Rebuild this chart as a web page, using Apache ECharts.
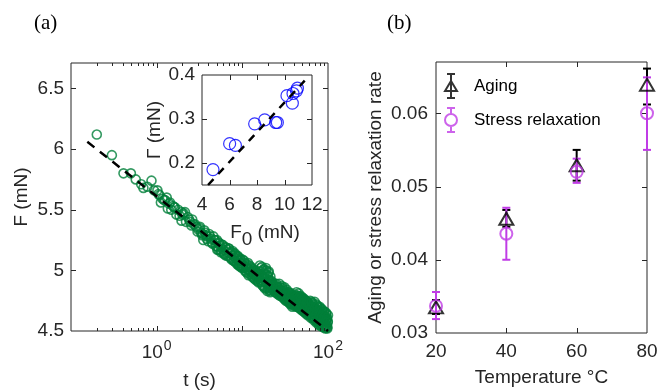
<!DOCTYPE html>
<html><head><meta charset="utf-8">
<script src="https://cdn.jsdelivr.net/npm/echarts@6/dist/echarts.min.js"></script>
<style>html,body{margin:0;padding:0;background:#fff}#c{width:670px;height:392px}</style>
</head><body><div id="c"></div>
<script>
// ---------- Panel (a): F vs t ----------
const tData = [0.20,0.30,0.41,0.50,0.57,0.66,0.70,0.78,0.87,0.93,1.02,1.08,1.17,1.25,1.31,1.43,1.55,1.63,1.78,1.95,1.95,2.05,2.14,2.30,2.45,2.60,2.70,2.90,3.05,3.20,3.30,3.45,3.50,3.60,3.75,3.90,4.00,4.10,4.30,4.50,4.60,4.80,5.00,5.10,5.25,5.30,5.50,5.60,5.80,6.00,6.20,6.40,6.60,6.80,7.00,7.20,7.40,7.60,7.80,8.00,8.20,8.40,8.60,8.80,9.00,9.20,9.40,9.60,9.80,
 10.0,10.3,10.6,10.9,11.2,11.5,11.8,12.1,12.4,12.7,13.0,13.3,13.6,13.9,14.2,14.5,14.8,15.1,15.4,15.7,
 16.0,16.3,16.6,16.9,17.2,17.5,17.8,18.1,18.4,18.7,19.0,19.3,19.6,19.9,20.2,20.5,20.8,21.1,21.4,21.7,
 22,22.5,23,23.5,24,24.5,25,25.5,26,26.5,27,27.5,28,28.5,29,29.5,30,30.5,31,31.5,32,32.5,33,33.5,34,34.5,35,35.5,36,36.5,37,37.5,38,38.5,39,39.5,
 40,40.5,41,41.5,42,42.5,43,43.5,44,44.5,45,45.5,46,46.5,47,47.5,48,48.5,49,49.5,50,50.5,51,51.5,52,52.5,53,53.5,54,54.5,55,55.5,56,56.5,57,57.5,58,58.5,59,59.5,
 60,61,62,63,64,65,66,67,68,69,70,71,72,73,74,75,76,77,78,79,80,81,82,83,84,85,86,87,88,89,90,91,92,93,94,95,96,97,98,99,100];
const fData = [6.12,5.95,5.80,5.80,5.75,5.71,5.68,5.69,5.74,5.66,5.66,5.62,5.59,5.58,5.60,5.56,5.53,5.52,5.50,5.48,5.41,5.47,5.48,5.44,5.40,5.42,5.38,5.36,5.34,5.36,5.31,5.30,5.25,5.33,5.29,5.28,5.24,5.30,5.26,5.22,5.28,5.25,5.20,5.17,5.17,5.23,5.20,5.15,5.21,5.17,5.13,5.19,5.15,5.12,5.18,5.14,5.10,5.15,5.12,5.08,5.14,5.10,5.06,5.12,5.08,5.04,5.10,5.06,5.03,
 5.09,5.02,5.06,4.99,5.05,5.01,4.96,5.04,4.99,5.02,4.95,5.01,4.97,4.93,5.00,4.95,4.98,4.91,4.97,4.94,
 5.04,4.99,4.90,5.03,4.95,4.87,5.01,4.93,4.85,4.97,5.00,4.89,4.83,4.95,4.98,4.86,4.92,4.82,4.90,4.85,
 4.91,4.85,4.88,4.83,4.89,4.84,4.89,4.81,4.86,4.82,4.89,4.79,4.84,4.80,4.87,4.78,4.83,4.79,4.86,4.76,4.81,4.77,4.84,4.75,4.80,4.76,4.82,4.73,4.78,4.74,4.81,4.72,4.77,4.73,4.79,4.71,
 4.76,4.72,4.80,4.74,4.78,4.71,4.82,4.75,4.70,4.79,4.73,4.81,4.69,4.76,4.72,4.79,4.68,4.75,4.71,4.78,4.67,4.74,4.70,4.77,4.66,4.73,4.69,4.76,4.65,4.72,4.68,4.75,4.64,4.71,4.67,4.74,4.63,4.70,4.66,4.73,
 4.69,4.64,4.75,4.61,4.68,4.73,4.62,4.70,4.59,4.66,4.74,4.60,4.68,4.57,4.64,4.71,4.58,4.66,4.55,4.62,4.70,4.57,4.64,4.54,4.61,4.68,4.55,4.63,4.53,4.60,4.66,4.54,4.61,4.52,4.58,4.65,4.53,4.60,4.52,4.57,4.63];
// second pass of readings (interleaved samples in the dense part of the cloud)
const tData2 = [1.05,1.12,1.22,1.35,1.40,1.48,1.60,1.70,1.85,2.00,2.20,2.40,2.55,2.80,3.00,3.15,3.40,3.70,3.85,4.20,4.40,4.70,4.90,
 5.05,5.2,5.4,5.7,5.9,6.1,6.3,6.5,6.7,6.9,7.1,7.3,7.5,7.7,7.9,8.1,8.3,8.5,8.7,8.9,9.1,9.3,9.5,9.7,9.9,
 10.15,10.45,10.75,11.05,11.35,11.65,11.95,12.25,12.55,12.85,13.15,13.45,13.75,14.05,14.35,14.65,14.95,15.25,15.55,15.85,
 16.15,16.45,16.75,17.05,17.35,17.65,17.95,18.25,18.55,18.85,19.15,19.45,19.75,20.05,20.35,20.65,20.95,21.25,21.55,21.85,
 22.25,22.75,23.25,23.75,24.25,24.75,25.25,25.75,26.25,26.75,27.25,27.75,28.25,28.75,29.25,29.75,30.25,30.75,
 31.25,31.75,32.25,32.75,33.25,33.75,34.25,34.75,35.25,35.75,36.25,36.75,37.25,37.75,38.25,38.75,39.25,39.75,
 40.25,40.75,41.25,41.75,42.25,42.75,43.25,43.75,44.25,44.75,45.25,45.75,46.25,46.75,47.25,47.75,48.25,48.75,49.25,49.75,
 50.25,50.75,51.25,51.75,52.25,52.75,53.25,53.75,54.25,54.75,55.25,55.75,56.25,56.75,57.25,57.75,58.25,58.75,59.25,59.75,
 60.5,61.5,62.5,63.5,64.5,65.5,66.5,67.5,68.5,69.5,70.5,71.5,72.5,73.5,74.5,75.5,76.5,77.5,78.5,79.5,
 80.5,81.5,82.5,83.5,84.5,85.5,86.5,87.5,88.5,89.5,90.5,91.5,92.5,93.5,94.5,95.5,96.5,97.5,98.5,99.5];
const fData2 = [5.63,5.56,5.58,5.51,5.55,5.50,5.52,5.46,5.45,5.46,5.40,5.42,5.37,5.38,5.32,5.35,5.29,5.31,5.26,5.28,5.23,5.25,5.20,
 5.25,5.19,5.22,5.16,5.21,5.14,5.19,5.12,5.17,5.18,5.11,5.15,5.09,5.16,5.08,5.13,5.07,5.12,5.05,5.11,5.04,5.09,5.03,5.08,5.02,
 5.04,5.08,5.00,5.03,4.98,5.06,5.01,4.97,5.03,4.98,5.00,4.94,4.99,4.96,4.92,4.99,4.93,4.96,4.90,4.95,
 4.92,5.02,4.96,4.88,5.00,4.91,4.97,4.86,4.94,5.02,4.90,4.96,4.85,4.92,4.99,4.84,4.88,4.95,4.83,4.89,
 4.87,4.89,4.84,4.86,4.82,4.87,4.84,4.86,4.80,4.84,4.83,4.86,4.79,4.82,4.81,4.85,4.77,4.81,
 4.80,4.83,4.75,4.79,4.78,4.82,4.74,4.78,4.77,4.80,4.72,4.76,4.75,4.79,4.70,4.75,4.74,4.77,
 4.74,4.77,4.73,4.78,4.70,4.76,4.73,4.79,4.72,4.74,4.77,4.70,4.75,4.78,4.69,4.74,4.77,4.72,4.68,4.75,
 4.71,4.76,4.68,4.73,4.75,4.67,4.71,4.74,4.70,4.66,4.72,4.69,4.74,4.66,4.70,4.73,4.65,4.69,4.72,4.67,
 4.66,4.71,4.63,4.69,4.74,4.61,4.67,4.72,4.64,4.60,4.69,4.63,4.72,4.58,4.66,4.70,4.60,4.67,4.56,4.64,
 4.69,4.59,4.66,4.56,4.62,4.67,4.57,4.64,4.54,4.61,4.66,4.56,4.62,4.53,4.59,4.64,4.55,4.61,4.53,4.58];
const fitT = [0.155, 100];
const fitF = [6.06, 4.50];
const tLabelValues = [1, 100];
const tMajorTicks = [1, 10];
const tMinorTicks = [0.2,0.3,0.4,0.5,0.6,0.7,0.8,0.9,2,3,4,5,6,7,8,9,20,30,40,50,60,70,80,90];
const fTicks = [5, 5.5, 6, 6.5];

// ---------- Inset: Gamma vs F0 ----------
const f0Data = [4.80,6.01,6.43,7.83,8.56,9.36,9.48,10.18,10.57,10.62,10.87,10.94];
const gammaData = [0.185,0.244,0.240,0.289,0.298,0.292,0.292,0.353,0.336,0.358,0.364,0.370];
const insetFitX = [4.44, 11.47];
const insetFitY = [0.15, 0.387];
const insetXTicks = [6, 8, 10];
const insetYTicks = [0.2, 0.3, 0.4];

// ---------- Panel (b) ----------
const temps = [20, 40, 60, 80];
const agingRate = [0.0335, 0.0456, 0.0529, 0.0639];
const agingLo   = [0.0326, 0.0445, 0.0508, 0.0612];
const agingHi   = [0.0345, 0.0468, 0.0550, 0.0661];
const stressRate = [0.0337, 0.04355, 0.0520, 0.0600];
const stressLo   = [0.0319, 0.0400, 0.0505, 0.0550];
const stressHi   = [0.0356, 0.0471, 0.0538, 0.0649];
const tempTicks = [40, 60];
const rateTicks = [0.04, 0.05, 0.06];

const FF = '"Liberation Sans", Arial, Helvetica, sans-serif';
const AX = '#262626';
const GREEN = '#007f3a';
const BLUE = '#0000ff';
const PURPLE = '#c03ce6';

function axisBase(extra) {
  return Object.assign({
    axisLine: {show: false, onZero: false},
    axisTick: {show: false},
    splitLine: {show: false},
    axisLabel: {color: AX, fontSize: 19, fontFamily: FF},
    nameTextStyle: {color: AX, fontSize: 19, fontFamily: FF}
  }, extra);
}

function errRender(color) {
  return function (params, api) {
    const x = api.value(0), lo = api.value(1), hi = api.value(2);
    const a = api.coord([x, lo]), b = api.coord([x, hi]);
    const w = 4;
    const st = {stroke: color, lineWidth: 2, fill: null};
    return {type: 'group', children: [
      {type: 'line', shape: {x1: a[0], y1: a[1], x2: b[0], y2: b[1]}, style: st},
      {type: 'line', shape: {x1: a[0] - w, y1: a[1], x2: a[0] + w, y2: a[1]}, style: st},
      {type: 'line', shape: {x1: b[0] - w, y1: b[1], x2: b[0] + w, y2: b[1]}, style: st}
    ]};
  };
}

// inward tick marks on all four sides of a box (kind 0: x major, 1: x minor, 2: y major)
function tickRender(params, api) {
  const cs = params.coordSys;
  const kind = api.value(2);
  const p = api.coord([api.value(0), api.value(1)]);
  const st = {stroke: AX, lineWidth: 1};
  if (kind === 2) {
    const y = Math.round(p[1]) + 0.5, L = 5;
    return {type: 'group', children: [
      {type: 'line', shape: {x1: cs.x, y1: y, x2: cs.x + L, y2: y}, style: st},
      {type: 'line', shape: {x1: cs.x + cs.width, y1: y, x2: cs.x + cs.width - L, y2: y}, style: st}
    ]};
  }
  const x = Math.round(p[0]) + 0.5, L = kind === 0 ? 5 : 3;
  return {type: 'group', children: [
    {type: 'line', shape: {x1: x, y1: cs.y + cs.height, x2: x, y2: cs.y + cs.height - L}, style: st},
    {type: 'line', shape: {x1: x, y1: cs.y, x2: x, y2: cs.y + L}, style: st}
  ]};
}
function tickData(xMajor, xMinor, yMajor, x0, y0) {
  return xMajor.map(v => [v, y0, 0]).concat(xMinor.map(v => [v, y0, 1])).concat(yMajor.map(v => [x0, v, 2]));
}

const greenPoints = tData.map((t, i) => [t, fData[i]]).concat(tData2.map((t, i) => [t, fData2[i]]));
const gridBox = {show: true, borderColor: AX, borderWidth: 1, backgroundColor: 'transparent', containLabel: false, outerBoundsMode: 'none'};

const option = {
  animation: false,
  backgroundColor: '#fff',
  title: [
    {text: '(a)', left: 29, top: 8, textStyle: {fontFamily: '"Liberation Serif", "Times New Roman", serif', fontSize: 21, fontWeight: 'normal', color: '#000'}},
    {text: '(b)', left: 382, top: 8, textStyle: {fontFamily: '"Liberation Serif", "Times New Roman", serif', fontSize: 21, fontWeight: 'normal', color: '#000'}}
  ],
  grid: [
    Object.assign({left: 71, top: 63, width: 257, height: 268}, gridBox),
    Object.assign({left: 202, top: 75, width: 110, height: 110}, gridBox),
    Object.assign({left: 436, top: 62, width: 211, height: 271}, gridBox)
  ],
  legend: {
    left: 444, top: 73, padding: 0, orient: 'vertical', itemWidth: 12, itemHeight: 24, itemGap: 8,
    selectedMode: false,
    textStyle: {fontSize: 17, fontFamily: FF, color: '#000', padding: [0, 0, 0, 12]},
    data: [
      {name: 'Aging', icon: 'path://M3,1L11,1M7,1L7,25M3,25L11,25M1,18L7,8L13,18Z',
       itemStyle: {color: 'transparent', borderColor: '#000', borderWidth: 2}},
      {name: 'Stress relaxation', icon: 'path://M3,1L11,1M7,1L7,7M7,19L7,25M3,25L11,25M1,13A6,6 0 1,1 13,13A6,6 0 1,1 1,13Z',
       itemStyle: {color: 'transparent', borderColor: PURPLE, borderWidth: 2}}
    ]
  },
  xAxis: [
    axisBase({type: 'log', logBase: 10, gridIndex: 0, min: 0.1, max: 100,
      name: 't (s)', nameLocation: 'middle', nameGap: 40,
      axisLabel: {color: AX, fontFamily: FF, margin: 8,
        formatter: v => {
          for (const L of tLabelValues) {
            if (Math.abs(v - L) / L < 1e-6) return '{b|10}{s|' + Math.round(Math.log10(L)) + '}';
          }
          return '';
        },
        rich: {
          b: {fontSize: 19, fontFamily: FF, color: AX, verticalAlign: 'bottom'},
          s: {fontSize: 14, fontFamily: FF, color: AX, verticalAlign: 'bottom', padding: [0, 0, 9, 1]}
        }
      }}),
    axisBase({type: 'value', gridIndex: 1, min: 4, max: 12, interval: 2,
      name: 'F{sub|0} (mN)', nameLocation: 'middle', nameGap: 31,
      nameTextStyle: {color: AX, fontSize: 19, fontFamily: FF, padding: [0, 0, 0, 16],
        rich: {sub: {fontSize: 19, fontFamily: FF, color: AX, padding: [14, 0, 0, 0]}}},
      axisLabel: {color: AX, fontSize: 19, fontFamily: FF, margin: 10}}),
    axisBase({type: 'value', gridIndex: 2, min: 20, max: 80, interval: 20,
      name: 'Temperature \u00B0C', nameLocation: 'middle', nameGap: 35,
      axisLabel: {color: AX, fontSize: 19, fontFamily: FF, margin: 9}})
  ],
  yAxis: [
    axisBase({type: 'value', gridIndex: 0, min: 4.5, max: 6.71, interval: 0.5,
      name: 'F (mN)', nameLocation: 'middle', nameGap: 40,
      axisLabel: {color: AX, fontSize: 19, fontFamily: FF, margin: 7, showMaxLabel: false}}),
    axisBase({type: 'value', gridIndex: 1, min: 0.15, max: 0.4,
      name: '\u0393 (mN)', nameLocation: 'middle', nameGap: 33,
      axisLabel: {color: AX, fontSize: 19, fontFamily: FF, margin: 7, customValues: insetYTicks}}),
    axisBase({type: 'value', gridIndex: 2, min: 0.03, max: 0.067, interval: 0.01,
      name: 'Aging or stress relaxation rate', nameLocation: 'middle', nameGap: 51,
      axisLabel: {color: AX, fontSize: 19, fontFamily: FF, margin: 8, showMaxLabel: false}})
  ],
  series: [
    {type: 'scatter', name: 'F data', xAxisIndex: 0, yAxisIndex: 0,
      data: greenPoints,
      symbol: 'circle', symbolSize: 9, clip: false,
      itemStyle: {color: 'rgba(0,0,0,0)', borderColor: GREEN, borderWidth: 1.6},
      emphasis: {disabled: true}},
    {type: 'line', name: 'fit a', xAxisIndex: 0, yAxisIndex: 0,
      data: fitT.map((t, i) => [t, fitF[i]]), symbol: 'none',
      lineStyle: {color: '#000', width: 2.5, type: [9, 7]}, emphasis: {disabled: true}},
    {type: 'custom', name: 'ticks a', xAxisIndex: 0, yAxisIndex: 0, silent: true, z: 5,
      renderItem: tickRender, data: tickData(tMajorTicks, tMinorTicks, fTicks, 1, 5)},
    {type: 'scatter', name: 'Gamma', xAxisIndex: 1, yAxisIndex: 1,
      data: f0Data.map((x, i) => [x, gammaData[i]]),
      symbol: 'circle', symbolSize: 12, clip: false,
      itemStyle: {color: 'rgba(0,0,0,0)', borderColor: BLUE, borderWidth: 1.2},
      emphasis: {disabled: true}},
    {type: 'line', name: 'fit inset', xAxisIndex: 1, yAxisIndex: 1,
      data: insetFitX.map((x, i) => [x, insetFitY[i]]), symbol: 'none',
      lineStyle: {color: '#000', width: 2.5, type: [8, 7]}, emphasis: {disabled: true}},
    {type: 'custom', name: 'ticks inset', xAxisIndex: 1, yAxisIndex: 1, silent: true, z: 5,
      renderItem: tickRender, data: tickData(insetXTicks, [], insetYTicks.slice(0, 2), 8, 0.3)},
    {type: 'custom', name: 'Aging err', xAxisIndex: 2, yAxisIndex: 2,
      renderItem: errRender('#000'),
      data: temps.map((t, i) => [t, agingLo[i], agingHi[i]])},
    {type: 'scatter', name: 'Aging', xAxisIndex: 2, yAxisIndex: 2,
      data: temps.map((t, i) => [t, agingRate[i]]),
      symbol: 'triangle', symbolSize: [14, 12], clip: false,
      itemStyle: {color: 'rgba(0,0,0,0)', borderColor: '#000', borderWidth: 2},
      emphasis: {disabled: true}},
    {type: 'custom', name: 'Stress err', xAxisIndex: 2, yAxisIndex: 2,
      renderItem: errRender(PURPLE),
      data: temps.map((t, i) => [t, stressLo[i], stressHi[i]])},
    {type: 'scatter', name: 'Stress relaxation', xAxisIndex: 2, yAxisIndex: 2,
      data: temps.map((t, i) => [t, stressRate[i]]),
      symbol: 'circle', symbolSize: 12, clip: false,
      itemStyle: {color: 'rgba(0,0,0,0)', borderColor: PURPLE, borderWidth: 2},
      emphasis: {disabled: true}},
    {type: 'custom', name: 'ticks b', xAxisIndex: 2, yAxisIndex: 2, silent: true, z: 1,
      renderItem: tickRender, data: tickData(tempTicks, [], rateTicks, 50, 0.045)}
  ]
};
const chart = echarts.init(document.getElementById('c'), null, {renderer: 'canvas'});
chart.setOption(option);
</script>
</body></html>
